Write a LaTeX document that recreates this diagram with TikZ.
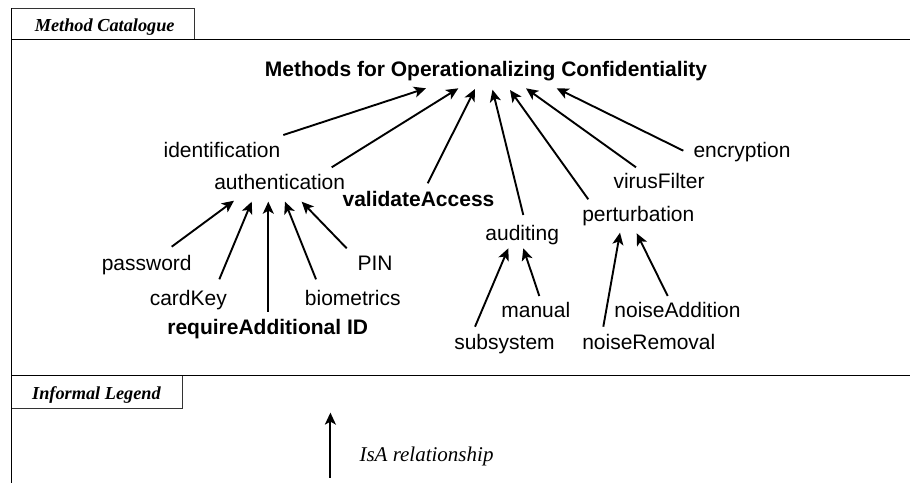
\documentclass[tikz,border=0pt]{standalone}
\usepackage{fontspec}
\setmainfont{Liberation Serif}
\newfontfamily\arialfont{Liberation Sans}
\usetikzlibrary{arrows.meta,calc}

\tikzset{
  lbl/.style={anchor=base, inner sep=0pt, font=\arialfont\fontsize{21}{25}\selectfont},
  lblbold/.style={lbl, font=\arialfont\bfseries\fontsize{21}{25}\selectfont},
  tabtext/.style={anchor=base, inner sep=0pt, font=\bfseries\itshape\fontsize{18.3}{22}\selectfont},
  isa/.style={line width=1.9pt, -{Stealth[length=12pt,width=11pt,inset=3pt]}},
  frame/.style={line width=1.3pt},
  tabedge/.style={line width=1pt, draw=black!80},
}

\begin{document}
\begin{tikzpicture}[x=1pt,y=-1pt]
\useasboundingbox (0,0) rectangle (910,483);

% frame, section dividers and tabs
\draw[frame] (11.6,8) -- (11.6,483);
\draw[frame] (11.6,39.3) -- (910,39.3);
\draw[frame] (11.6,375.8) -- (910,375.8);
\draw[tabedge] (11.6,8) -- (194.3,8) -- (194.3,39.3);
\draw[tabedge] (182.4,375.8) -- (182.4,408.4) -- (11.6,408.4);
\node[tabtext] (tabcat) at (104.7,31) {Method Catalogue};
\node[tabtext] (tableg) at (96.5,399.3) {Informal Legend};

% method catalogue
\node[lblbold] (top)  at (486,76.7) {Methods for Operationalizing Confidentiality};
\node[lbl]     (ident) at (222,157.7) {identification};
\node[lbl]     (auth)  at (279.7,189.3) {authentication};
\node[lblbold] (valid) at (418.5,206.7) {validateAccess};
\node[lbl]     (audit) at (522.2,240) {auditing};
\node[lbl]     (pert)  at (638.3,221.7) {perturbation};
\node[lbl]     (virus) at (659,188.3) {virusFilter};
\node[lbl]     (encr)  at (742,157.3) {encryption};

\node[lbl]     (pwd)   at (146.7,270) {password};
\node[lbl]     (card)  at (188.3,305) {cardKey};
\node[lblbold] (reqid) at (267.7,334) {requireAdditional ID};
\node[lbl]     (bio)   at (352.8,305) {biometrics};
\node[lbl]     (pin)   at (375,270) {PIN};

\node[lbl]     (subsys) at (504.5,349.3) {subsystem};
\node[lbl]     (manual) at (535.8,317.3) {manual};
\node[lbl]     (nrem)   at (648.8,349.3) {noiseRemoval};
\node[lbl]     (nadd)   at (677.5,317.3) {noiseAddition};

% IsA links to the root
\draw[isa] ($(ident.base)+(61.3,-22.7)$) -- ($(top.base)+(-60,11.6)$);
\draw[isa] ($(auth.base)+(52,-22)$)      -- ($(top.base)+(-27.7,11.6)$);
\draw[isa] ($(valid.base)+(9.2,-23.4)$)  -- ($(top.base)+(-11,12.3)$);
\draw[isa] ($(audit.base)+(1.1,-25)$)    -- ($(top.base)+(6.5,13)$);
\draw[isa] ($(pert.base)+(-50,-22.4)$)   -- ($(top.base)+(24,13.3)$);
\draw[isa] ($(virus.base)+(-23,-21)$)    -- ($(top.base)+(40,11.6)$);
\draw[isa] ($(encr.base)+(-58.7,-6.6)$)  -- ($(top.base)+(70.7,11.6)$);

% IsA links to authentication
\draw[isa] ($(pwd.base)+(25,-23.3)$)    -- ($(auth.base)+(-45.7,11.4)$);
\draw[isa] ($(card.base)+(31,-25.7)$)   -- ($(auth.base)+(-28,12.4)$);
\draw[isa] ($(reqid.base)+(0.6,-22.3)$) -- ($(auth.base)+(-11.4,12.4)$);
\draw[isa] ($(bio.base)+(-36.8,-25.7)$) -- ($(auth.base)+(5.3,12.4)$);
\draw[isa] ($(pin.base)+(-28.3,-21.7)$) -- ($(auth.base)+(22,12.4)$);

% IsA links to auditing and perturbation
\draw[isa] ($(subsys.base)+(-29.5,-22.6)$) -- ($(audit.base)+(-13.9,8.3)$);
\draw[isa] ($(manual.base)+(3.5,-21.3)$)   -- ($(audit.base)+(1.1,8.3)$);
\draw[isa] ($(nrem.base)+(-45.5,-22.6)$)   -- ($(pert.base)+(-18.3,11)$);
\draw[isa] ($(nadd.base)+(-9.8,-21.3)$)    -- ($(pert.base)+(-1.6,11.6)$);

% legend
\coordinate (isatail) at (330.4,477.5);
\coordinate (isahead) at (330.4,412.6);
\draw[isa] (isatail) -- (isahead);
\node[anchor=base, inner sep=0pt, font=\itshape\fontsize{21}{25}\selectfont] (isalbl) at (426.5,461.7) {IsA relationship};
\end{tikzpicture}
\end{document}
